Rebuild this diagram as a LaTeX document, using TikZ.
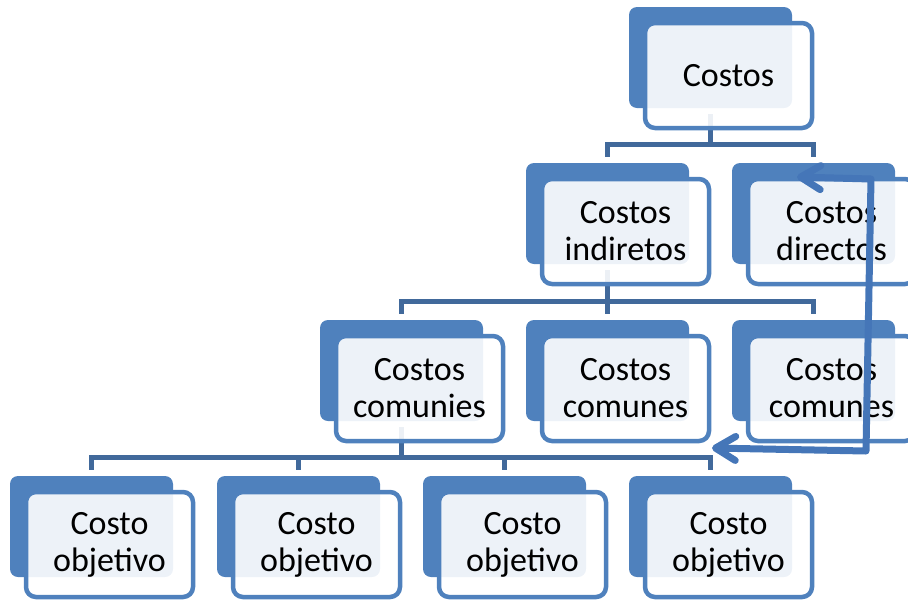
\documentclass[tikz,border=0pt]{standalone}
\usepackage{fontspec}
\setmainfont{Carlito}
\usetikzlibrary{arrows.meta,backgrounds}
\definecolor{boxblue}{HTML}{4F81BD}
\definecolor{linkblue}{HTML}{41699B}
\definecolor{arrowblue}{HTML}{4576B8}
\tikzset{
  backbox/.style={fill=boxblue, rounded corners=8pt, minimum width=163pt, minimum height=101pt, inner sep=0pt},
  frontbox/.style={draw=boxblue, line width=4.5pt, fill=white, fill opacity=0.9, text opacity=1,
    rounded corners=10pt, minimum width=167pt, minimum height=105pt, inner sep=0pt,
    align=center, font=\fontsize{34}{37}\selectfont},
  link/.style={draw=linkblue, line width=5pt},
  backarrow/.style={draw=arrowblue, line width=7pt, line join=round,
    {Straight Barb[round, length=20pt, width=24pt]}-{Straight Barb[round, length=20pt, width=24pt]}}
}
\begin{document}
\begin{tikzpicture}[x=1pt, y=-1pt]
  \useasboundingbox (0,0) rectangle (908,603);
  \clip (0,0) rectangle (908,603);

  % Costos
  \node[backbox] (root) at (710.5,57.5) {};
  \node[frontbox] (rootf) at ([shift={(18,18)}]root.center) {Costos};

  % Costos indiretos / directos
  \node[backbox] (ind) at (607.5,213.5) {};
  \node[frontbox] (indf) at ([shift={(18,18)}]ind.center) {Costos\\indiretos};
  \node[backbox] (dir) at (813.5,213.5) {};
  \node[frontbox] (dirf) at ([shift={(18,18)}]dir.center) {Costos\\directos};

  % Costos comunes
  \node[backbox] (com1) at (401.5,370.5) {};
  \node[frontbox] (com1f) at ([shift={(18,18)}]com1.center) {Costos\\comunies};
  \node[backbox] (com2) at (607.5,370.5) {};
  \node[frontbox] (com2f) at ([shift={(18,18)}]com2.center) {Costos\\comunes};
  \node[backbox] (com3) at (813.5,370.5) {};
  \node[frontbox] (com3f) at ([shift={(18,18)}]com3.center) {Costos\\comunes};

  % Costo objetivo
  \node[backbox] (obj1) at (91.5,526.5) {};
  \node[frontbox] (obj1f) at ([shift={(18,18)}]obj1.center) {Costo\\objetivo};
  \node[backbox] (obj2) at (298.5,526.5) {};
  \node[frontbox] (obj2f) at ([shift={(18,18)}]obj2.center) {Costo\\objetivo};
  \node[backbox] (obj3) at (504.5,526.5) {};
  \node[frontbox] (obj3f) at ([shift={(18,18)}]obj3.center) {Costo\\objetivo};
  \node[backbox] (obj4) at (710.5,526.5) {};
  \node[frontbox] (obj4f) at ([shift={(18,18)}]obj4.center) {Costo\\objetivo};

  % connectors, under the boxes
  \begin{scope}[on background layer]
    \foreach \kid in {ind,dir}
      \draw[link] ([yshift=-6pt]root.south) |- ([yshift=18pt]\kid.north) -- ([yshift=6pt]\kid.north);
    \foreach \kid in {com1,com2,com3}
      \draw[link] ([yshift=-6pt]ind.south) |- ([yshift=18pt]\kid.north) -- ([yshift=6pt]\kid.north);
    \foreach \kid in {obj1,obj2,obj3,obj4}
      \draw[link] ([yshift=-6pt]com1.south) |- ([yshift=18pt]\kid.north) -- ([yshift=6pt]\kid.north);
  \end{scope}

  % return arrow
  \coordinate (arrtop) at (797,177);
  \coordinate (arrbot) at (712,448);
  \draw[backarrow] (arrtop) -- (871,179) -- (866,451) -- (arrbot);

\end{tikzpicture}
\end{document}
